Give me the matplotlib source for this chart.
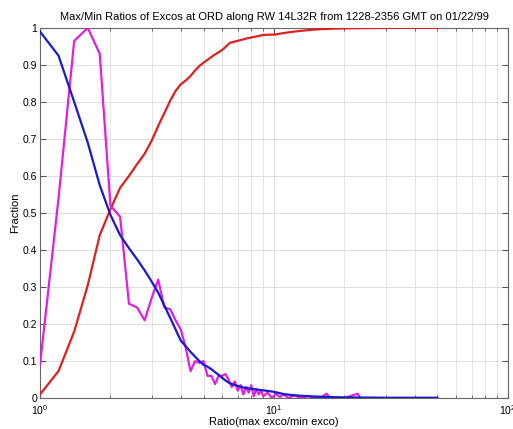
import matplotlib
matplotlib.use('Agg')
import matplotlib.pyplot as plt
from matplotlib.ticker import FixedLocator, LogLocator, NullFormatter

plt.rcParams['font.family'] = ['Liberation Sans', 'DejaVu Sans']

# ── Data ─────────────────────────────────────────────────────────────────────
pdf_x = [1.0, 1.2, 1.4, 1.6, 1.8, 2.0, 2.2, 2.4, 2.6, 2.8, 3.0, 3.2, 3.4, 3.6,
         3.8, 4.0, 4.2, 4.4, 4.6, 4.8, 5.0, 5.2, 5.4, 5.6, 5.8, 6.0, 6.2, 6.4,
         6.6, 6.8, 7.0, 7.2, 7.4, 7.6, 7.8, 8.0, 8.2, 8.4, 8.6, 8.8, 9.0, 9.4,
         9.8, 10.2, 10.6, 11.0, 11.6, 12.2, 13.0, 14.0, 15.0, 16.0, 16.8, 17.4,
         20.0, 22.8, 23.4]
pdf_y = [0.09, 0.54, 0.965, 1.0, 0.93, 0.52, 0.49, 0.255, 0.245, 0.21, 0.27,
         0.32, 0.245, 0.24, 0.21, 0.185, 0.135, 0.073, 0.10, 0.095, 0.10, 0.06,
         0.06, 0.038, 0.06, 0.06, 0.065, 0.05, 0.03, 0.045, 0.02, 0.035, 0.01,
         0.03, 0.015, 0.035, 0.005, 0.025, 0.01, 0.02, 0.005, 0.015, 0.0, 0.012,
         0.003, 0.01, 0.0, 0.008, 0.0, 0.006, 0.0, 0.003, 0.012, 0.0, 0.0,
         0.012, 0.0]

exceed_x = [1.0, 1.2, 1.4, 1.6, 1.8, 2.0, 2.2, 2.4, 2.6, 2.8, 3.0, 3.2, 3.4,
            3.6, 3.8, 4.0, 4.2, 4.4, 4.6, 4.8, 5.0, 5.2, 5.4, 5.6, 5.8, 6.0,
            6.2, 6.4, 6.6, 7.0, 7.5, 8.0, 9.0, 10.0, 11.0, 12.0, 14.0, 17.0,
            20.0, 30.0, 50.0]
exceed_y = [0.99, 0.925, 0.80, 0.69, 0.575, 0.495, 0.44, 0.405, 0.375, 0.345,
            0.315, 0.285, 0.25, 0.217, 0.185, 0.155, 0.14, 0.125, 0.112, 0.10,
            0.09, 0.085, 0.078, 0.07, 0.063, 0.055, 0.048, 0.042, 0.038, 0.033,
            0.028, 0.025, 0.021, 0.017, 0.011, 0.008, 0.005, 0.003, 0.002,
            0.001, 0.001]

cdf_x = [1.0, 1.2, 1.4, 1.6, 1.8, 2.0, 2.2, 2.4, 2.6, 2.8, 3.0, 3.2, 3.4, 3.6,
         3.8, 4.0, 4.2, 4.4, 4.6, 4.8, 5.0, 5.5, 6.0, 6.5, 7.0, 7.7, 8.3, 9.0,
         10.1, 11.0, 12.2, 13.5, 15.3, 18.0, 21.0, 30.0, 50.0]
cdf_y = [0.01, 0.073, 0.18, 0.305, 0.44, 0.51, 0.568, 0.60, 0.632, 0.66,
         0.695, 0.735, 0.77, 0.803, 0.83, 0.848, 0.858, 0.87, 0.885, 0.897,
         0.906, 0.925, 0.94, 0.96, 0.965, 0.972, 0.976, 0.981, 0.982, 0.986,
         0.99, 0.993, 0.996, 0.998, 0.999, 1.0, 1.0]

y_ticks = [0, 0.1, 0.2, 0.3, 0.4, 0.5, 0.6, 0.7, 0.8, 0.9, 1]
y_labels = ['0', '0.1', '0.2', '0.3', '0.4', '0.5', '0.6', '0.7', '0.8', '0.9', '1']

# ── Figure ───────────────────────────────────────────────────────────────────
fig = plt.figure(figsize=(5.13, 4.29), dpi=100)
ax = fig.add_axes([0.078, 0.072, 0.912, 0.863])

ax.plot(cdf_x, cdf_y, color='#dd2020', lw=1.6, zorder=3)
ax.plot(pdf_x, pdf_y, color='#e020e0', lw=1.6, zorder=4)
ax.plot(exceed_x, exceed_y, color='#1a1acc', lw=1.6, zorder=5)

ax.set_xscale('log')
ax.set_xlim(1, 100)
ax.set_ylim(0, 1)
ax.xaxis.set_major_locator(LogLocator(base=10))
ax.xaxis.set_minor_locator(LogLocator(base=10, subs=range(2, 10)))
ax.xaxis.set_minor_formatter(NullFormatter())
ax.yaxis.set_major_locator(FixedLocator(y_ticks))
ax.set_yticklabels(y_labels)

ax.grid(True, which='major', color='#d9d9d9', linestyle='-', lw=0.6, zorder=0)
ax.grid(True, which='minor', axis='x', color='#e0e0e0', linestyle='-', lw=0.6, zorder=0)

ax.tick_params(which='both', direction='in', top=True, right=True,
               labelsize=7.5, color='#555555')
ax.tick_params(axis='y', pad=2)
ax.tick_params(axis='x', pad=4)
ax.tick_params(which='major', length=4)
ax.tick_params(which='minor', length=2)
for s in ax.spines.values():
    s.set_color('#666666')
    s.set_linewidth(0.8)

ax.set_title('Max/Min Ratios of Excos at ORD along RW 14L32R from 1228-2356 GMT on 01/22/99',
             fontsize=8, pad=6)
ax.set_xlabel('Ratio(max exco/min exco)', fontsize=8, labelpad=0)
ax.set_ylabel('Fraction', fontsize=8, labelpad=2)

fig.savefig('out.png', dpi=100, facecolor='white')
